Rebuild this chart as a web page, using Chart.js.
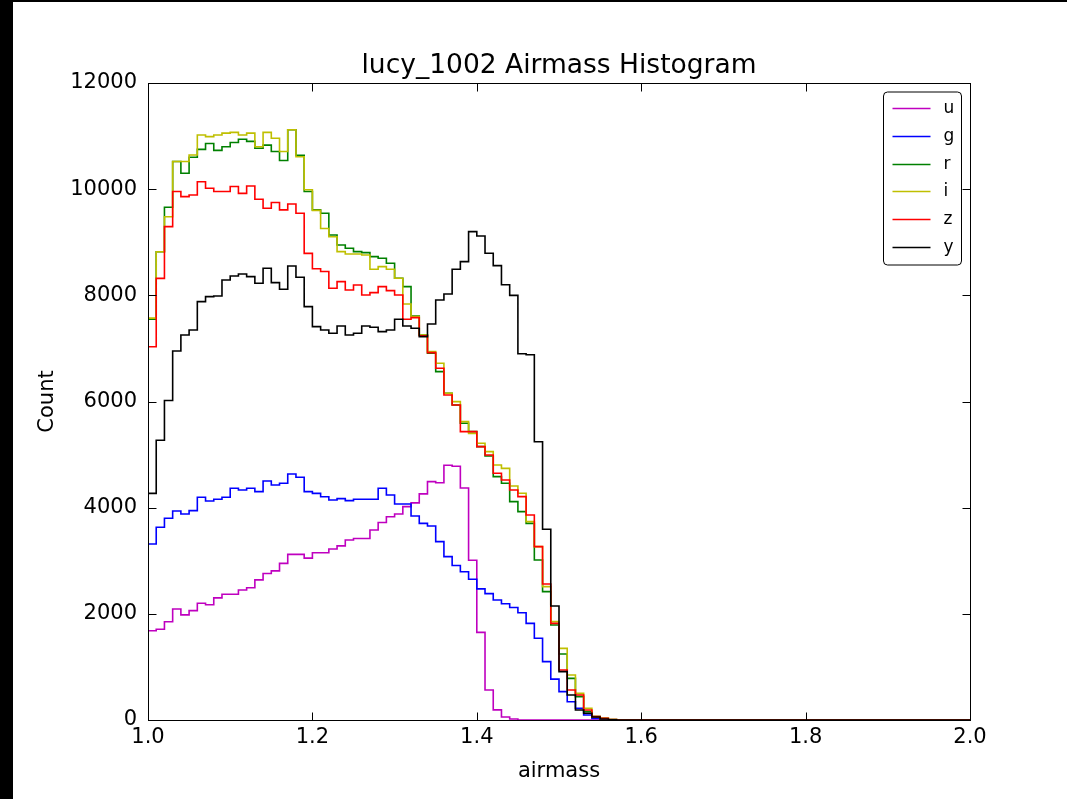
<!DOCTYPE html>
<html><head><meta charset="utf-8">
<script src="https://cdn.jsdelivr.net/npm/chart.js@4/dist/chart.umd.min.js"></script>
<style>
html,body{margin:0;padding:0;background:#000;width:1067px;height:799px;overflow:hidden;}
#wrap{position:absolute;left:13px;top:2px;width:1054px;height:797px;background:#fff;}
canvas{display:block;}
</style></head><body>
<div id="wrap"><canvas id="c" width="1054" height="797"></canvas></div>
<script>
const chartTitle = 'lucy_1002 Airmass Histogram';
const xLabel = 'airmass';
const yLabel = 'Count';
const binStart = 1.0, binWidth = 0.01, binCount = 100;
const xTicks = [1.0, 1.2, 1.4, 1.6, 1.8, 2.0];
const yTicks = [0, 2000, 4000, 6000, 8000, 10000, 12000];
const filters = ['u', 'g', 'r', 'i', 'z', 'y'];
const colors = ['#bf00bf', '#0000ff', '#008000', '#bfbf00', '#ff0000', '#000000'];

const countsU = [
 1680,1710,1850,2090,1980,2060,2200,2170,2300,2370,
 2370,2450,2490,2640,2760,2810,2950,3120,3120,3050,
 3150,3150,3220,3280,3390,3420,3420,3580,3720,3830,
 3880,4020,4090,4260,4490,4470,4800,4780,4370,3010,
 1650,565,190,56,20,0,0,0,0,0,
 0,0,0,0,0,0,0,0,0,0,
 0,0,0,0,0,0,0,0,0,0,
 0,0,0,0,0,0,0,0,0,0,
 0,0,0,0,0,0,0,0,0,0,
 0,0,0,0,0,0,0,0,0,0];
const countsG = [
 3316,3630,3800,3938,3881,3944,4196,4126,4158,4196,
 4365,4333,4365,4302,4503,4427,4459,4635,4572,4302,
 4270,4207,4145,4170,4132,4158,4158,4158,4365,4239,
 4069,4069,3843,3705,3655,3360,3077,2910,2794,2651,
 2470,2380,2260,2190,2120,2020,1820,1540,1100,770,
 535,345,220,95,30,10,0,0,0,0,
 0,0,0,0,0,0,0,0,0,0,
 0,0,0,0,0,0,0,0,0,0,
 0,0,0,0,0,0,0,0,0,0,
 0,0,0,0,0,0,0,0,0,0];
const countsR = [
 7550,8820,9660,10520,10300,10600,10750,10860,10730,10800,
 10880,10940,10900,10770,10830,10710,10540,11120,10640,9955,
 9610,9545,9137,8949,8886,8823,8805,8730,8698,8604,
 8322,8164,7612,7253,6908,6563,6155,5935,5589,5432,
 5150,4974,4584,4459,4113,3925,3705,3014,2418,1790,
 1243,785,440,157,63,31,10,0,0,0,
 0,0,0,0,0,0,0,0,0,0,
 0,0,0,0,0,0,0,0,0,0,
 0,0,0,0,0,0,0,0,0,0,
 0,0,0,0,0,0,0,0,0,0];
const countsI = [
 7570,8820,9480,10520,10520,10645,11020,10990,11020,11055,
 11070,11020,11055,10800,11070,10960,10710,11120,10610,9990,
 9600,9260,9105,8823,8780,8780,8761,8491,8541,8491,
 8322,7837,7599,7253,6940,6720,6155,5997,5620,5400,
 5213,5055,4804,4741,4409,4271,3737,3266,2512,1853,
 1350,848,502,220,63,31,10,0,0,0,
 0,0,0,0,0,0,0,0,0,0,
 0,0,0,0,0,0,0,0,0,0,
 0,0,0,0,0,0,0,0,0,0,
 0,0,0,0,0,0,0,0,0,0];
const countsZ = [
 7030,8320,9294,9955,9860,9890,10140,10016,9955,9955,
 10050,9920,10060,9810,9640,9750,9610,9720,9545,8790,
 8500,8450,8133,8258,8101,8196,8007,8051,8164,8089,
 8007,7550,7580,7240,6920,6626,6123,5935,5432,5432,
 5150,4993,4647,4522,4333,4208,3862,3266,2562,1821,
 942,565,471,188,63,31,10,0,0,0,
 0,0,0,0,0,0,0,0,0,0,
 0,0,0,0,0,0,0,0,0,0,
 0,0,0,0,0,0,0,0,0,0,
 0,0,0,0,0,0,0,0,0,0];
const countsY = [
 4270,5270,6020,6950,7253,7347,7881,7975,7988,8290,
 8365,8403,8352,8227,8510,8239,8114,8553,8340,7787,
 7410,7347,7285,7423,7253,7285,7423,7398,7316,7347,
 7549,7423,7379,7222,7461,7913,8026,8491,8635,9200,
 9118,8792,8560,8200,8000,6900,6880,5243,3592,2148,
 911,471,188,126,56,20,5,0,0,0,
 0,0,0,0,0,0,0,0,0,0,
 0,0,0,0,0,0,0,0,0,0,
 0,0,0,0,0,0,0,0,0,0,
 0,0,0,0,0,0,0,0,0,0];
const allCounts = [countsU, countsG, countsR, countsI, countsZ, countsY];

const FONT = "'DejaVu Sans', 'Liberation Sans', sans-serif";

function stepPoints(vals) {
  const pts = [{x: binStart, y: 0}];
  for (let i = 0; i < binCount; i++) pts.push({x: binStart + i * binWidth, y: vals[i]});
  pts.push({x: binStart + binCount * binWidth, y: vals[binCount - 1]});
  return pts;
}

const datasets = filters.map((f, k) => ({
  label: f,
  data: stepPoints(allCounts[k]),
  borderColor: colors[k],
  backgroundColor: colors[k],
  borderWidth: 1.6,
  pointRadius: 0,
  stepped: 'before',
  fill: false,
  order: filters.length - k
}));

const framePlugin = {
  id: 'frameTicksLegend',
  afterDraw(chart) {
    const {ctx, chartArea: a, scales: {x, y}} = chart;
    ctx.save();
    ctx.strokeStyle = '#000';
    ctx.lineWidth = 1;
    const L = 8;
    const l = Math.round(a.left) + 0.5, r = Math.round(a.right) + 0.5;
    const t = Math.round(a.top) + 0.5, b = Math.round(a.bottom) + 0.5;
    ctx.beginPath();
    x.ticks.forEach(tk => {
      const px = Math.round(x.getPixelForValue(tk.value)) + 0.5;
      ctx.moveTo(px, b); ctx.lineTo(px, b - L);
      ctx.moveTo(px, t); ctx.lineTo(px, t + L);
    });
    y.ticks.forEach(tk => {
      const py = Math.round(y.getPixelForValue(tk.value)) + 0.5;
      ctx.moveTo(l, py); ctx.lineTo(l + L, py);
      ctx.moveTo(r, py); ctx.lineTo(r - L, py);
    });
    ctx.stroke();
    ctx.strokeRect(l, t, r - l, b - t);

    // legend
    const bw = 78, bh = 173;
    const bx = r - 9 - bw, by = t + 8.5;
    const rad = 4;
    ctx.beginPath();
    ctx.moveTo(bx + rad, by);
    ctx.arcTo(bx + bw, by, bx + bw, by + bh, rad);
    ctx.arcTo(bx + bw, by + bh, bx, by + bh, rad);
    ctx.arcTo(bx, by + bh, bx, by, rad);
    ctx.arcTo(bx, by, bx + bw, by, rad);
    ctx.closePath();
    ctx.fillStyle = '#fff';
    ctx.fill();
    ctx.strokeStyle = '#000';
    ctx.lineWidth = 1;
    ctx.stroke();
    ctx.font = '17px ' + FONT;
    ctx.textBaseline = 'middle';
    ctx.textAlign = 'left';
    chart.data.datasets.forEach((ds, k) => {
      const cy = Math.round(by + 16 + k * 27.8) + 0.5;
      ctx.beginPath();
      ctx.strokeStyle = ds.borderColor;
      ctx.lineWidth = 1.6;
      ctx.moveTo(bx + 9, cy); ctx.lineTo(bx + 47, cy);
      ctx.stroke();
      ctx.fillStyle = '#000';
      ctx.fillText(ds.label, bx + 60, cy);
    });
    ctx.restore();
  }
};

new Chart(document.getElementById('c'), {
  type: 'line',
  data: {datasets},
  options: {
    responsive: false,
    animation: false,
    events: [],
    layout: {padding: {left: 20, right: 97, top: 0, bottom: 10}},
    plugins: {
      legend: {display: false},
      tooltip: {enabled: false},
      title: {
        display: true, text: chartTitle, fullSize: false,
        color: '#000',
        font: {family: FONT, size: 26.5, weight: 'normal'},
        padding: {top: 48, bottom: 1.2}
      }
    },
    scales: {
      x: {
        type: 'linear', min: 1, max: 2,
        afterBuildTicks: s => { s.ticks = xTicks.map(v => ({value: v})); },
        afterFit: s => { s.height = 69; },
        grid: {display: false, drawTicks: false},
        border: {display: false},
        ticks: {
          color: '#000', font: {family: FONT, size: 21}, padding: 5,
          autoSkip: false, maxRotation: 0,
          callback: v => Number(v).toFixed(1)
        },
        title: {display: true, text: xLabel, color: '#000',
          font: {family: FONT, size: 21}, padding: {top: 0, bottom: 4.4}}
      },
      y: {
        type: 'linear', min: 0, max: 12000,
        afterBuildTicks: s => { s.ticks = yTicks.map(v => ({value: v})); },
        afterFit: s => { s.width = 115; },
        grid: {display: false, drawTicks: false},
        border: {display: false},
        ticks: {
          color: '#000', font: {family: FONT, size: 21}, padding: 11,
          autoSkip: false,
          callback: v => String(v)
        },
        title: {display: true, text: yLabel, color: '#000',
          font: {family: FONT, size: 21}, padding: {top: 2.4, bottom: 0}}
      }
    }
  },
  plugins: [framePlugin]
});
</script>
</body></html>
